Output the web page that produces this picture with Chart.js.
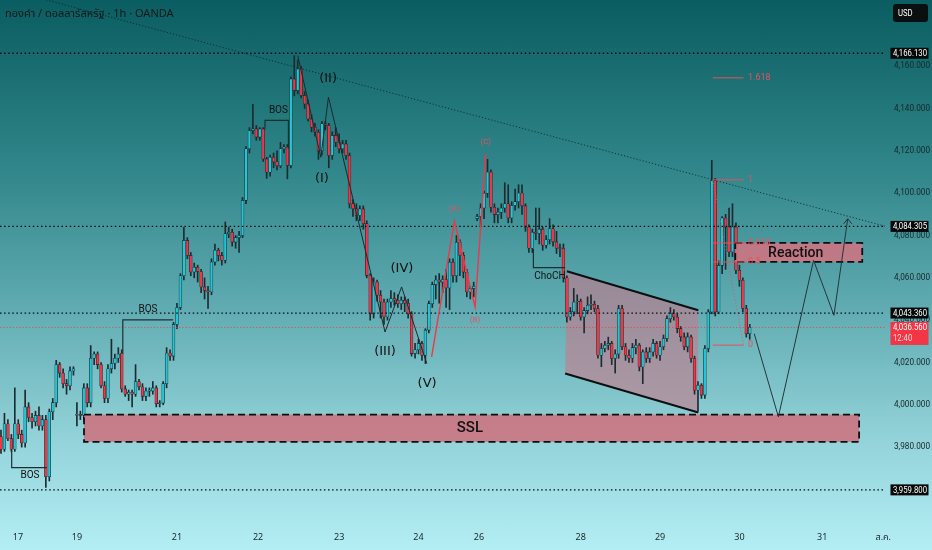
<!DOCTYPE html>
<html><head><meta charset="utf-8">
<script src="https://cdn.jsdelivr.net/npm/chart.js@4.4.1/dist/chart.umd.min.js"></script>
<style>
html,body{margin:0;padding:0;width:932px;height:550px;overflow:hidden;}
#wrap{position:relative;width:932px;height:550px;background:linear-gradient(to bottom,#0a5d60 0%,#2f8589 30%,#5eaab0 55%,#8fd0d6 78%,#b4eef5 100%);}
canvas{display:block;}
</style></head><body><div id="wrap"><canvas id="c" width="932" height="550"></canvas></div>
<script>
// ---- data (hourly candles) ----
const openP = [3985,3979,3991,3984,3979,3991,3986,3982,3999,3994,
3992,3995,3990,3993,3966,3996.7,4001,4019,4015,4010,
4009,4016,3995,3995.5,3995,4008,4001,4022,4024,4019,
4009,4003,4017,4019.5,4022,4024.5,4007.5,4005,4006,4005,
4011,4008.5,4004,4006.5,4006.5,4008,4000.5,4000.8,4010,4024.5,
4023,4038,4046,4061,4077.7,4070.6,4062.8,4065,4063,4055.7,
4054,4053.3,4067.5,4073,4070.6,4068.3,4080.8,4081.6,4076.9,4079,
4080,4096.6,4121,4129.6,4130.4,4126.5,4130.4,4116.2,4109.9,4117,
4115,4113,4121,4121.8,4113.1,4154,4148.5,4158.7,4146.2,4142.2,
4135.1,4131.2,4128.8,4120,4132.8,4132,4117.8,4127.3,4124.1,4121,
4123.3,4117.8,4095,4092.6,4089.5,4092.6,4085.6,4061.2,4043,4058,
4051.8,4048.6,4041.5,4048.6,4050.2,4049.4,4047.8,4049.4,4048,4043,
4024.2,4026,4029,4023.4,4035.3,4047.8,4056.8,4059,4058,4059.2,
4055.2,4067.4,4061,4076.8,4070.6,4062.7,4053.3,4054.9,4088,4089,
4093,4100,4110,4093.4,4089.9,4091,4093,4095,4088.3,4094.2,
4096,4100.1,4094,4084,4074,4081.6,4081,4083,4075.4,4078,
4083.2,4077,4074,4074,4060,4041.5,4044,4048.6,4049,4041.5,
4044.5,4047,4047.5,4045.5,4023.4,4026.6,4028.2,4029,4021.9,4024,
4045.5,4027.4,4023.4,4022,4027,4028.2,4017.9,4025,4021.9,4025,
4029,4023.4,4027.4,4031.3,4040.7,4043.1,4041.5,4036,4032.1,4027.4,
4032.1,4021.9,4006.9,4009.3,4004.6,4026.6,4043.9,4106,4043.9,4065.9,
4088.3,4084,4072.2,4084,4063.6,4058.9,4045.5,4033.6];
const highP = [3988,3996,3993,3986,4008,3993,3988,4007,4001,3996,
3997,3999,3995,3995,3998,4003,4021,4020,4017,4012,
4018,4018,4001,3997,4010,4010,4028,4025,4025,4020,
4011,4019,4031,4024,4027,4026,4009,4007,4007,4019,
4012,4010,4008,4008,4011,4009,4002,4011,4027,4026,
4039,4048,4062,4084,4079,4072,4067,4066,4064,4060,
4056,4069,4076,4074,4072,4086.4,4084,4083,4080,4082,
4098,4122,4131,4142,4132,4131,4131,4117,4118,4119,
4120,4124,4123,4123,4155,4165,4163,4160,4148,4144,
4137,4133,4130,4134,4134,4133,4129,4131,4128,4125,
4125,4119,4097,4095,4094,4094,4087,4062,4060,4059,
4054,4050,4050,4054,4053,4052,4051,4051,4050,4044,
4029,4031,4030,4036,4049,4058,4061,4062,4061,4064,
4069,4069,4080,4078,4072,4064,4056,4058,4090,4095,
4101,4116,4111,4095,4093,4095,4105,4104,4096,4102,
4104,4104,4095,4085,4083,4093,4093,4084,4080,4088,
4085,4082,4076,4076,4061,4046,4055,4052,4050,4046,
4051,4052,4049,4047,4029,4030,4032,4030,4026,4047,
4047,4029,4026,4029,4031,4029,4026,4027,4027,4031,
4030,4030,4033,4042,4046,4045,4043,4037,4034,4034,
4033,4023,4011,4010,4028,4045,4115.5,4107,4068,4089,
4090,4093,4095,4086,4066,4060,4047,4038];
const lowP = [3977,3978,3983,3978,3978,3984,3980,3980,3992,3989,
3990,3988,3988,3961,3964,3993,3999,4013,4008,4005,
4007,4014,3990,3993,3993,3999,3999,4019,4017,4008,
4001,4001,4015,4017,4020,4006,4004,4002,3999,4004,
4007,4002,4002,4004,4005,3999,3999,4000,4008,4021,
4021,4036,4045,4059,4069,4061,4060,4058,4053,4050,
4045.5,4052,4066,4068,4066,4067,4079,4075,4074,4072,
4079,4095,4119,4128,4125,4125,4115,4107,4108,4112,
4111,4112,4119,4106.8,4112,4146,4147,4145,4140,4134,
4129,4127,4116,4118,4130,4112,4116,4122,4119,4119,
4116,4093,4089,4087,4087,4083,4060,4040,4041,4049,
4041,4038,4040,4046,4047,4046,4045,4044,4041,4023,
4022,4024,4021,4019.5,4034,4046,4050,4048,4053,4046,
4045,4058,4058,4061,4060,4051,4050,4051,4087,4084,
4088,4098,4091,4086,4086,4088,4091,4086,4086,4092,
4093,4090,4082,4072,4072,4078,4076,4073,4074,4076,
4075,4071.5,4070,4058,4039,4040,4042,4043,4040,4034,
4043,4045,4044,4022,4018,4025,4026,4019,4015,4022,
4026,4021,4020,4020,4024,4016,4010,4020,4020,4023,
4022,4021,4026,4030,4039,4040,4034,4030,4026,4025,
4020,4005,3997,4003,4003,4025,4043,4042,4043,4062,
4064,4070,4070,4062,4056,4044,4032,4031];
const closeP = [3979,3991,3984,3979,3991,3986,3982,3999,3994,3992,
3995,3990,3993,3966,3996.7,4001,4019,4015,4010,4009,
4016,4017,3995.5,3995,4008,4001,4022,4024,4019,4009,
4003,4017,4019.5,4022,4024,4007.5,4005,4006,4005,4011,
4008.5,4004,4006.5,4006.5,4008,4000.5,4000.8,4010,4024.5,4023,
4038,4046,4061,4077.7,4070.6,4062.8,4065,4063,4055.7,4054,
4053.3,4067.5,4073,4070.6,4068.3,4080.8,4081.6,4076.9,4079,4080,
4096.6,4121,4129.6,4130.4,4126.5,4130.4,4116.2,4109.9,4117,4114.7,
4113,4121,4121.8,4113.1,4154,4148.5,4158.7,4146.2,4142.2,4135.1,
4131.2,4128.8,4120,4132.8,4132,4117.8,4127.3,4124.1,4121,4123.3,
4117.8,4095,4092.6,4089.5,4092.6,4085.6,4061.2,4043,4058,4051.8,
4048.6,4041.5,4048.6,4050.2,4049.4,4047.8,4049.4,4048,4043,4024.2,
4026,4029,4023.4,4035.3,4047.8,4056.8,4059,4058,4059.2,4055.2,
4067.4,4061,4076.8,4070.6,4062.7,4053.3,4054.9,4056,4089,4093,
4100,4110,4093.4,4089.9,4091,4093,4095,4088.3,4094.2,4096,
4100.1,4094,4084,4074,4081.6,4081,4083,4075.4,4078,4083.2,
4077,4074,4073.8,4060,4041.5,4044,4048.6,4049,4041.5,4044.5,
4047,4047.5,4045.5,4023.4,4026.6,4028.2,4029,4021.9,4024,4045.5,
4027.4,4023.4,4022,4027,4028.2,4017.9,4025,4021.9,4025,4029,
4023.4,4027.4,4031.3,4040.7,4043.1,4041.5,4036,4032.1,4027.4,4032.1,
4021.9,4006.9,4009.3,4004.6,4026.6,4043.9,4106,4043.9,4065.9,4088.3,
4084,4072.2,4084,4063.6,4058.9,4045.5,4033.6,4036.56];

// x-axis date labels and their candle positions
const dateLabels = ['17','19','21','22','23','24','26','28','29','30','31','ส.ค.'];
const dateIdx = [4.9,22,51,74.5,98,121,138.5,168,191,214,238,255.7];
// price-axis ticks
const priceTicks = [3980,4000,4020,4040,4060,4080,4100,4120,4140,4160];
// marked levels
const blackLevels = [4166.13, 4084.305, 4043.36, 3959.8];
const lastPrice = 4036.56;
const countdown = '12:40';
// drawings (candle index, price)
const trendLine = [[-0.29,4197.3],[256.2,4084.4]];
const waveLine = [[86.0,4165.0],[92.7,4117.0],[94.9,4145.4],[111.3,4034.4],[116.1,4055.7],[123.4,4019.5]];
const abcLine = [[124.8,4022.7],[131.4,4086.8],[137.4,4046.2],[140.5,4118.6]];
const projLine = [[218.3,4033.6],[225.3,3994.3],[235.5,4068.3],[241.4,4042.3],[245.4,4087.9]];
const channelTop = [[164.0,4063.1],[202.1,4044.7]];
const channelBot = [[163.5,4014.8],[202.1,3996.4]];
const sslZone = [24.06,3995.4,248.7,3982.5];
const reactionZone = [212.8,4076.5,249.6,4067.5];
const chochLine = [[154.3,4073.6],[154.3,4064.8],[163.5,4064.8]];
const bosLines = [
  [[3.1,3978.8],[3.1,3970.3],[13.3,3970.3]],
  [[35.3,4024.1],[35.3,4040.1],[49.9,4040.1]],
  [[76.5,4130.1],[76.5,4134.4],[83.3,4134.4],[83.3,4121]]
];
const bosText = [[8.4,3966.5],[42.6,4045.0],[80.4,4139.1]];
const waveText = [['(II)',94.8,4154.1],['(I)',93.0,4106.7],['(III)',111.3,4025],['(IV)',116.2,4064.2],['(V)',123.5,4009.9]];
const abcText = [['(A)',131.4,4092.6],['(B)',137.4,4040],['(C)',140.5,4124.4]];
const fibX = [206.3,215.2];
const fibLevels = [['1.618',4154.5],['1',4106.3],['0.618',4076.5],['0.5',4067.5],['0',4028.2]];
const fibLabelX = 216.5;

const idx = closeP.map((_, i) => i);
const bodies = idx.map(i => ({x: i, y: [openP[i], closeP[i]]}));
const wicks = idx.map(i => ({x: i, y: [lowP[i], highP[i]]}));
const UP = '#27c4d3', DN = '#f23645', EDGE = '#15262b';
const fmt = v => v.toLocaleString('en-US', {minimumFractionDigits: 3, maximumFractionDigits: 3});
const FONT = '"Roboto","Noto Sans","DejaVu Sans",sans-serif';
const THAI = '"Noto Sans Thai","Noto Sans Thai UI","Loma","Garuda","Tlwg Typo","DejaVu Sans","Noto Sans",sans-serif';

const drawings = {
  id: 'drawings',
  beforeDatasetsDraw(chart) {
    const c = chart.ctx, xs = chart.scales.x, ys = chart.scales.y;
    const X = v => xs.getPixelForValue(v), Y = v => ys.getPixelForValue(v);
    c.save();
    c.beginPath();
    c.moveTo(X(channelTop[0][0]), Y(channelTop[0][1]));
    c.lineTo(X(channelTop[1][0]), Y(channelTop[1][1]));
    c.lineTo(X(channelBot[1][0]), Y(channelBot[1][1]));
    c.lineTo(X(channelBot[0][0]), Y(channelBot[0][1]));
    c.closePath(); c.fillStyle = 'rgba(196,122,140,0.62)'; c.fill();
    c.restore();
  },
  afterDatasetsDraw(chart) {
    const c = chart.ctx, xs = chart.scales.x, ys = chart.scales.y, a = chart.chartArea;
    const X = v => xs.getPixelForValue(v), Y = v => ys.getPixelForValue(v);
    c.save();
    c.beginPath(); c.rect(a.left, a.top, a.right - a.left, a.bottom - a.top); c.clip();
    const path = (pts, color, w, dash) => {
      c.beginPath(); c.strokeStyle = color; c.lineWidth = w; c.setLineDash(dash || []);
      pts.forEach((p, k) => k ? c.lineTo(X(p[0]), Y(p[1])) : c.moveTo(X(p[0]), Y(p[1])));
      c.stroke(); c.setLineDash([]);
    };
    const text = (t, i, v, font, color, align) => {
      c.font = font; c.fillStyle = color; c.textAlign = align || 'center'; c.textBaseline = 'middle';
      c.fillText(t, X(i), Y(v));
    };
    const zone = (z) => {
      const x1 = X(z[0]), y1 = Y(z[1]), x2 = X(z[2]), y2 = Y(z[3]);
      c.fillStyle = 'rgba(204,116,130,0.9)'; c.fillRect(x1, y1, x2 - x1, y2 - y1);
      c.strokeStyle = '#0b0f10'; c.lineWidth = 1.8; c.setLineDash([7, 4]);
      c.strokeRect(x1, y1, x2 - x1, y2 - y1); c.setLineDash([]);
    };
    zone(sslZone);
    text('SSL', 135.9, 3988.7, '500 15px ' + FONT, '#111', 'center');
    path(channelTop, '#0b0f10', 2); path(channelBot, '#0b0f10', 2);
    blackLevels.forEach(v => path([[xs.min, v], [xs.max, v]], '#070b0c', 1.3, [1.5, 2.6]));
    path([[xs.min, lastPrice], [xs.max, lastPrice]], 'rgba(242,54,69,0.75)', 1, [1.2, 2]);
    path(trendLine, 'rgba(10,40,45,0.85)', 1, [1.2, 2]);
    bosLines.forEach(l => path(l, '#1e2f33', 1.2));
    bosText.forEach(p => text('BOS', p[0], p[1], '10px ' + FONT, '#111', 'center'));
    path(chochLine, '#1e2f33', 1.2);
    text('ChoCH', 159.1, 4060.7, '10px ' + FONT, '#111', 'center');
    path(waveLine, '#1b2a2e', 1);
    waveText.forEach(t => text(t[0], t[1], t[2], '13px "DejaVu Sans",sans-serif', '#111', 'center'));
    path(abcLine, '#f23645', 1.4);
    abcText.forEach(t => text(t[0], t[1], t[2], '8px ' + FONT, '#e8505c', 'center'));
    path([[fibX[0], fibLevels[1][1]], [fibX[1], fibLevels[4][1]]], 'rgba(235,80,95,0.8)', 1, [1.2, 2]);
    zone(reactionZone);
    fibLevels.forEach(f => {
      path([[fibX[0], f[1]], [fibX[1] + (f[0] === '0.618' || f[0] === '0.5' ? 0.6 : 0), f[1]]], '#e8505c', 1);
      text(f[0], fibLabelX, f[1], '9px ' + FONT, '#e8505c', 'left');
    });
    text('Reaction', 230.3, 4071.4, '500 14px ' + FONT, '#111', 'center');
    path(projLine, '#25363a', 1);
    const e = projLine[projLine.length - 1], ex = X(e[0]), ey = Y(e[1]);
    c.beginPath(); c.strokeStyle = '#25363a'; c.lineWidth = 1;
    c.moveTo(ex - 4, ey + 5); c.lineTo(ex, ey); c.lineTo(ex + 4, ey + 5); c.stroke();
    c.restore();
  },
  afterDraw(chart) {
    const c = chart.ctx, ys = chart.scales.y;
    const Y = v => ys.getPixelForValue(v);
    const narrowText = (t, x, y) => { c.save(); c.translate(x, y); c.scale(0.86, 1); c.fillText(t, 0, 0); c.restore(); };
    c.save();
    c.textBaseline = 'middle'; c.textAlign = 'left';
    c.font = '11px ' + THAI; c.fillStyle = '#101819';
    c.fillText('ทองคำ / ดอลลาร์สหรัฐ · 1h · OANDA', 5, 15);
    c.fillStyle = '#0c0f10'; c.beginPath(); c.roundRect(893, 4, 35, 18, 3); c.fill();
    c.fillStyle = '#fff'; c.font = '9px ' + FONT; narrowText('USD', 898, 13.5);
    blackLevels.forEach(v => {
      const y = Y(v);
      c.fillStyle = '#070909'; c.fillRect(890.5, y - 5.5, 38, 11);
      c.fillStyle = '#fff'; c.font = '9px ' + FONT; narrowText(fmt(v), 893, y + 0.5);
    });
    const yl = Y(lastPrice);
    c.fillStyle = '#f23645'; c.fillRect(890.5, yl - 5.5, 38, 23);
    c.fillStyle = '#fff'; c.font = '9px ' + FONT; narrowText(fmt(lastPrice), 893, yl + 0.5);
    c.fillStyle = '#ffd6d9'; narrowText(countdown, 893, yl + 11.5);
    c.restore();
  }
};

new Chart(document.getElementById('c'), {
  type: 'bar',
  data: {
    datasets: [
      {data: bodies, order: 0, grouped: false, barThickness: 2.8, minBarLength: 1,
       backgroundColor: ctx => { const i = ctx.dataIndex; return closeP[i] >= openP[i] ? UP : DN; },
       borderColor: EDGE, borderWidth: 0.6, borderSkipped: false},
      {data: wicks, order: 1, grouped: false, barThickness: 1, backgroundColor: '#1d2b30', borderWidth: 0}
    ]
  },
  options: {
    responsive: false, animation: false,
    layout: {padding: 0},
    plugins: {legend: {display: false}, tooltip: {enabled: false}},
    scales: {
      x: {type: 'linear', offset: false, min: -0.29, max: 256.2, position: 'bottom',
          grid: {display: false, drawTicks: false, offset: false}, border: {display: false},
          afterFit: s => { s.height = 25; s.paddingLeft = 0; s.paddingRight = 0; },
          afterBuildTicks: s => { s.ticks = dateIdx.map(v => ({value: v})); },
          ticks: {autoSkip: false, maxRotation: 0, padding: 8, color: '#17262a',
                  font: {size: 9, family: THAI},
                  callback: v => { const k = dateIdx.indexOf(v); return k >= 0 ? dateLabels[k] : ''; }}},
      y: {type: 'linear', position: 'right', min: 3943.2, max: 4191.3,
          grid: {display: false, drawTicks: false}, border: {display: false},
          afterFit: s => { s.width = 47; s.paddingTop = 0; s.paddingBottom = 0; },
          afterBuildTicks: s => { s.ticks = priceTicks.map(v => ({value: v})); },
          ticks: {padding: 9, color: '#17262a', font: {size: 8.2, family: FONT}, callback: v => fmt(v)}}
    }
  },
  plugins: [drawings]
});
</script></body></html>
